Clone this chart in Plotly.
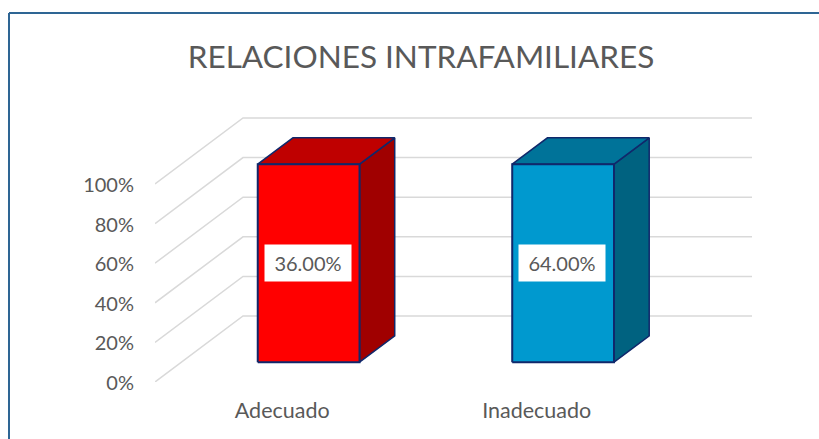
import plotly.graph_objects as go

TITLE = "RELACIONES INTRAFAMILIARES"
categories = ["Adecuado", "Inadecuado"]
shares = [36.00, 64.00]
stack_totals = [100, 100]
y_ticks = [0, 20, 40, 60, 80, 100]
y_tick_labels = ["0%", "20%", "40%", "60%", "80%", "100%"]
front_colors = ["#FF0000", "#0099CF"]
top_colors = ["#BF0000", "#007399"]
side_colors = ["#A00000", "#006280"]
EDGE = "#10286B"
GRID = "#D9D9D9"
TEXT = "#595959"
FONT = "Lato"

# oblique projection of the 3D chart, in axis units
DEPTH_X, DEPTH_Y = 0.3458, 33.33
BAR_WIDTH = 0.40
BAR_NEAR, BAR_FAR = 0.30, 0.70

W, H = 819, 439
L, R, T, B = 155, 67, 113, 57
XR = [-0.5, 1.846]
YR = [0, 135.86]

fig = go.Figure()

# floor diagonals and back-wall gridlines (base layer)
gx, gy = [], []
for t in y_ticks:
    gx += [XR[0], XR[0] + DEPTH_X, XR[1], None]
    gy += [t, t + DEPTH_Y, t + DEPTH_Y, None]
fig.add_trace(go.Scatter(x=gx, y=gy, mode="lines", line=dict(color=GRID, width=1.5),
                         hoverinfo="skip", showlegend=False, xaxis="x", yaxis="y"))

xpos = list(range(len(categories)))
for i, total in enumerate(stack_totals):
    x0 = xpos[i] - BAR_WIDTH / 2 + BAR_NEAR * DEPTH_X
    x1 = x0 + BAR_WIDTH
    y0 = BAR_NEAR * DEPTH_Y
    y1 = y0 + total
    ddx = (BAR_FAR - BAR_NEAR) * DEPTH_X
    ddy = (BAR_FAR - BAR_NEAR) * DEPTH_Y
    # side face
    fig.add_trace(go.Scatter(x=[x1, x1 + ddx, x1 + ddx, x1, x1], y=[y0, y0 + ddy, y1 + ddy, y1, y0],
                             mode="lines", fill="toself", fillcolor=side_colors[i],
                             line=dict(color=EDGE, width=1.5), hoverinfo="skip", showlegend=False,
                             xaxis="x2", yaxis="y2"))
    # top face
    fig.add_trace(go.Scatter(x=[x0, x0 + ddx, x1 + ddx, x1, x0], y=[y1, y1 + ddy, y1 + ddy, y1, y1],
                             mode="lines", fill="toself", fillcolor=top_colors[i],
                             line=dict(color=EDGE, width=1.5), hoverinfo="skip", showlegend=False,
                             xaxis="x2", yaxis="y2"))
    # front face
    fig.add_trace(go.Scatter(x=[x0, x1, x1, x0, x0], y=[y0, y0, y1, y1, y0],
                             mode="lines", fill="toself", fillcolor=front_colors[i],
                             line=dict(color=EDGE, width=2), hoverinfo="skip", showlegend=False,
                             xaxis="x2", yaxis="y2"))
    fig.add_annotation(x=xpos[i] + BAR_NEAR * DEPTH_X, y=y0 + total / 2, xref="x2", yref="y2",
                       text=f"{shares[i]:.2f}%", showarrow=False, xshift=-1, width=84, height=34,
                       bgcolor="#FFFFFF", valign="middle", align="center",
                       font=dict(family=FONT, size=20, color=TEXT))

# frame of the chart area: left and top edges only reach the picture
px = lambda v: (v - L) / (W - L - R)
py = lambda v: 1 - (v - T) / (H - T - B)
fig.add_shape(type="line", xref="paper", yref="paper", x0=px(9), x1=px(9), y0=py(439), y1=py(13),
              line=dict(color="#2E6594", width=2))
fig.add_shape(type="line", xref="paper", yref="paper", x0=px(9), x1=px(819), y0=py(13), y1=py(13),
              line=dict(color="#2E6594", width=2))

fig.update_layout(
    width=W, height=H, autosize=False,
    margin=dict(l=L, r=R, t=T, b=B),
    paper_bgcolor="#FFFFFF", plot_bgcolor="rgba(0,0,0,0)",
    font=dict(family=FONT, color=TEXT),
    showlegend=False,
    title=dict(text=TITLE, x=421 / W, xanchor="center", xref="container",
               y=1 - 57 / H, yanchor="middle", yref="container",
               font=dict(family=FONT, size=31.5, color=TEXT)),
    xaxis=dict(range=XR, tickvals=xpos, ticktext=categories, showgrid=False, zeroline=False,
               showline=False, ticks="", tickfont=dict(family=FONT, size=21.5, color=TEXT),
               ticklabelstandoff=13),
    yaxis=dict(range=YR, tickvals=y_ticks, ticktext=y_tick_labels, showgrid=False, zeroline=False,
               showline=False, ticks="", tickfont=dict(family=FONT, size=20, color=TEXT),
               ticklabelstandoff=20, ticklabelshift=1),
    xaxis2=dict(range=XR, overlaying="x", visible=False),
    yaxis2=dict(range=YR, overlaying="y", visible=False),
)

fig.write_html("out.html", config=dict(displayModeBar=False),
               post_script="document.body.style.margin='0';")
